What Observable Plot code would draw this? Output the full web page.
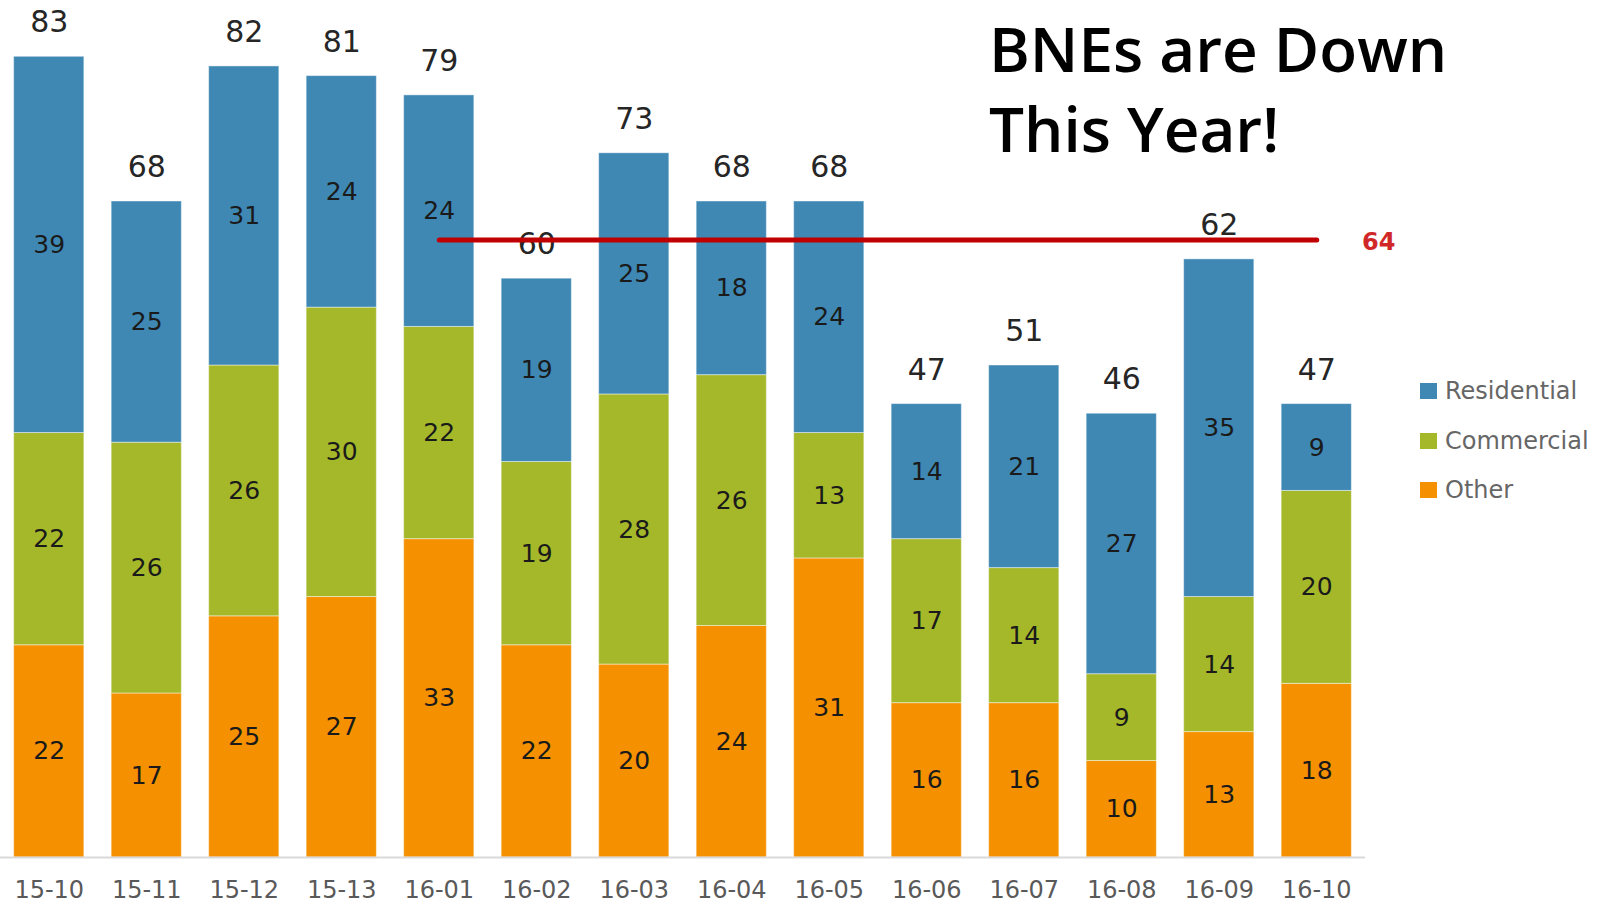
<!DOCTYPE html>
<html>
<head>
<meta charset="utf-8">
<script src="https://cdn.jsdelivr.net/npm/d3@7"></script>
<script src="https://cdn.jsdelivr.net/npm/@observablehq/plot@0.6"></script>
<style>
  html, body { margin: 0; padding: 0; background: #fff; }
  #wrap { position: relative; width: 1606px; height: 904px; overflow: hidden; }
  #chart { position: absolute; left: 0; top: 0; }
  #title { position: absolute; left: 989px; top: 8px; font-family: "Open Sans", sans-serif; font-weight: 600; font-size: 62px; line-height: 80px; color: #000; white-space: nowrap; }
  #legend { position: absolute; left: 1420px; top: 378px; font-family: "DejaVu Sans", sans-serif; font-size: 24px; color: #666666; }
  .item { display: flex; align-items: center; height: 26px; margin-bottom: 23.5px; }
  .sw { width: 17px; height: 16px; margin-right: 8px; }
</style>
</head>
<body>
<div id="wrap">
  <div id="chart"></div>
  <div id="title">BNEs are Down<br>This Year!</div>
  <div id="legend"></div>
</div>
<script>
const periods = ["15-10","15-11","15-12","15-13","16-01","16-02","16-03","16-04","16-05","16-06","16-07","16-08","16-09","16-10"];
const other = [22,17,25,27,33,22,20,24,31,16,16,10,13,18];
const commercial = [22,26,26,30,22,19,28,26,13,17,14,9,14,20];
const residential = [39,25,31,24,24,19,25,18,24,14,21,27,35,9];
const seriesNames = ["Other","Commercial","Residential"];
const seriesColors = ["#f59100","#a5b82a","#3f88b4"];
const legendOrder = ["Residential","Commercial","Other"];
const avgValue = 64;
const avgFrom = "16-01";
const avgTo = "16-10";

const seriesValues = [other, commercial, residential];
const rows = [];
periods.forEach((p, i) => {
  seriesNames.forEach((s, j) => rows.push({period: p, series: s, value: seriesValues[j][i]}));
});
const totals = periods.map((p, i) => ({period: p, total: other[i] + commercial[i] + residential[i]}));
const avgLine = [{period: avgFrom, v: avgValue}, {period: avgTo, v: avgValue}];

const chart = Plot.plot({
  width: 1606,
  height: 904,
  marginLeft: 0,
  marginRight: 241,
  marginTop: 37,
  marginBottom: 47,
  style: {fontFamily: "DejaVu Sans, sans-serif", background: "#fff"},
  x: {domain: periods, paddingInner: 0.28, paddingOuter: 0.14, round: false, label: null},
  y: {domain: [0, 85], axis: null},
  color: {domain: seriesNames, range: seriesColors},
  marks: [
    Plot.barY(rows, Plot.stackY({x: "period", y: "value", z: "series", fill: "series", order: seriesNames, stroke: "#ffffff", strokeOpacity: 0.45, strokeWidth: 1})),
    Plot.ruleY([0], {stroke: "#d9d9d9", strokeWidth: 2}),
    Plot.axisX({tickSize: 0, tickPadding: 23, fontSize: 24, fill: "#595959", label: null}),
    Plot.text(rows, Plot.stackY({x: "period", y: "value", z: "series", order: seriesNames, text: "value", fontSize: 25, fill: "#1a1a1a"})),
    Plot.text(totals, {x: "period", y: "total", text: "total", dy: -34, fontSize: 30, fill: "#262626"}),
    Plot.line(avgLine, {x: "period", y: "v", stroke: "#c00000", strokeWidth: 5, strokeLinecap: "round"}),
    Plot.text([avgLine[1]], {x: "period", y: "v", text: "v", dx: 62, dy: 2, fontSize: 24, fontWeight: "bold", fill: "#d02828"})
  ]
});
document.getElementById("chart").appendChild(chart);

const legend = document.getElementById("legend");
legendOrder.forEach(name => {
  const item = document.createElement("div");
  item.className = "item";
  const sw = document.createElement("div");
  sw.className = "sw";
  sw.style.background = seriesColors[seriesNames.indexOf(name)];
  const label = document.createElement("span");
  label.textContent = name;
  item.appendChild(sw);
  item.appendChild(label);
  legend.appendChild(item);
});
</script>
</body>
</html>
